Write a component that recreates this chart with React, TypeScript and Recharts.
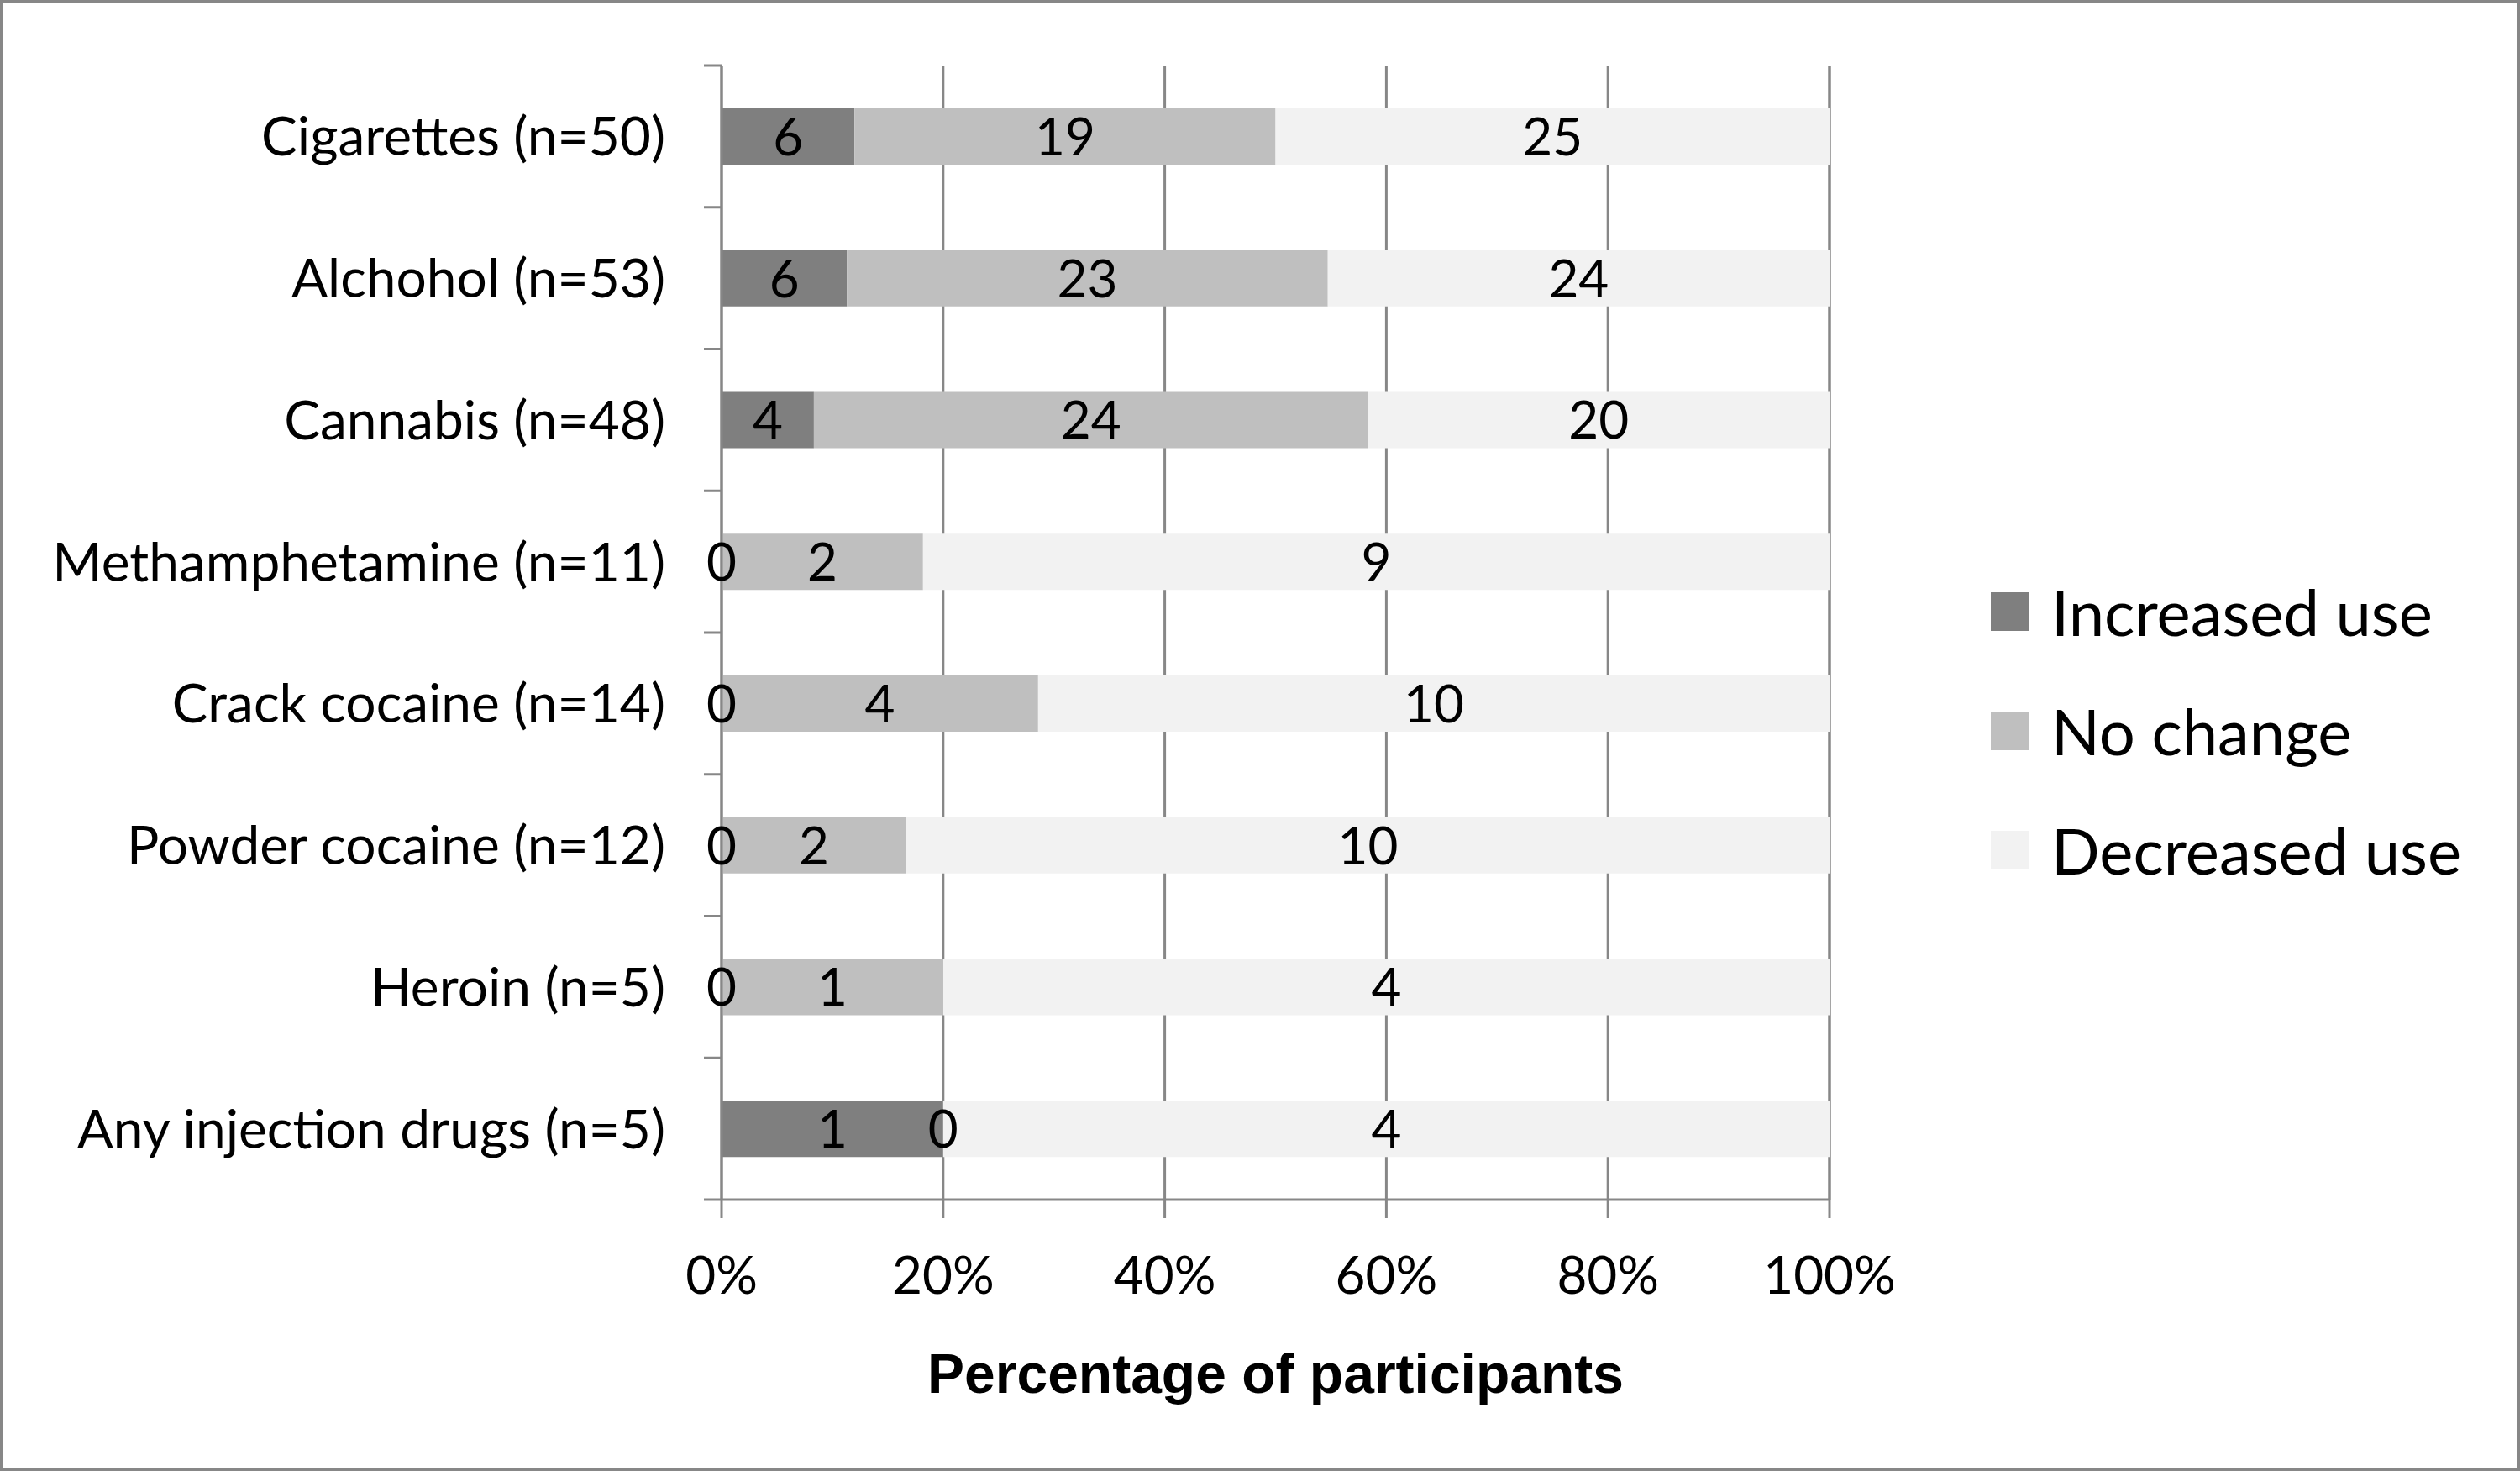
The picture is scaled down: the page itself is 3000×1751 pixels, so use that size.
import React from 'react';
import {
  BarChart,
  Bar,
  XAxis,
  YAxis,
  CartesianGrid,
  Legend,
  LabelList,
} from 'recharts';

// Substances with sample size
const substances = [
  'Cigarettes (n=50)',
  'Alchohol (n=53)',
  'Cannabis (n=48)',
  'Methamphetamine (n=11)',
  'Crack cocaine (n=14)',
  'Powder cocaine (n=12)',
  'Heroin (n=5)',
  'Any injection drugs (n=5)',
];
const sampleSizes = [50, 53, 48, 11, 14, 12, 5, 5];

// Counts per response
const increasedUse = [6, 6, 4, 0, 0, 0, 0, 1];
const noChange = [19, 23, 24, 2, 4, 2, 1, 0];
const decreasedUse = [25, 24, 20, 9, 10, 10, 4, 4];

const percentTicks = [0, 20, 40, 60, 80, 100];

const seriesNames = ['Increased use', 'No change', 'Decreased use'];

const colors = {
  increased: '#7f7f7f',
  noChange: '#bfbfbf',
  decreased: '#f2f2f2',
  axis: '#878787',
  text: '#000000',
};

const labelFont = 'Lato, "Open Sans", sans-serif';

const data = substances.map((name, i) => ({
  name,
  increased: (increasedUse[i] / sampleSizes[i]) * 100,
  noChange: (noChange[i] / sampleSizes[i]) * 100,
  decreased: (decreasedUse[i] / sampleSizes[i]) * 100,
  increasedN: increasedUse[i],
  noChangeN: noChange[i],
  decreasedN: decreasedUse[i],
}));

const TICK_MARGIN = 67;
const TICK_LEN = 21;

// category label + boundary tick marks (Excel puts ticks between categories)
const CategoryTick = (props: any) => {
  const { x, y, payload, index } = props;
  const half = payload?.offset ?? 0;
  const axisX = x + TICK_MARGIN;
  const isLast = index === substances.length - 1;
  return (
    <g>
      <line x1={axisX - TICK_LEN} x2={axisX} y1={y - half} y2={y - half} stroke={colors.axis} strokeWidth={3} />
      {isLast && (
        <line x1={axisX - TICK_LEN} x2={axisX} y1={y + half} y2={y + half} stroke={colors.axis} strokeWidth={3} />
      )}
      <text
        x={x}
        y={y}
        dy="0.36em"
        textAnchor="end"
        fontFamily={labelFont}
        fontSize={64}
        fill={colors.text}
      >
        {payload.value}
      </text>
    </g>
  );
};

const countText = (key: string, cx: number, cy: number, value: number) => (
  <text
    key={key}
    x={cx}
    y={cy}
    dy="0.36em"
    textAnchor="middle"
    fontFamily={labelFont}
    fontSize={62}
    fill={colors.text}
  >
    {value}
  </text>
);

// Recharts drops zero-width segments, so a "0" of the previous series is
// drawn at the left edge of the next segment
const makeCountLabel = (prevKey?: string) => (props: any) => {
  const { x, y, width, height, value, index } = props;
  const cy = Number(y) + Number(height) / 2;
  const row = data[index];
  return (
    <g>
      {prevKey && row && (row as any)[prevKey] === 0 && countText('z', Number(x), cy, 0)}
      {countText('v', Number(x) + Number(width) / 2, cy, value)}
    </g>
  );
};

const LegendContent = () => {
  const swatches = [colors.increased, colors.noChange, colors.decreased];
  return (
    <div style={{ width: 762, paddingLeft: 192, boxSizing: 'border-box', transform: 'translateY(-6px)' }}>
      {seriesNames.map((label, i) => (
        <div key={label} style={{ height: 142, display: 'flex', alignItems: 'center' }}>
          <div style={{ width: 46, height: 46, background: swatches[i], marginRight: 26 }} />
          <span style={{ fontFamily: labelFont, fontSize: 76, color: colors.text, lineHeight: 1 }}>{label}</span>
        </div>
      ))}
    </div>
  );
};

export default function App() {
  return (
    <div style={{ position: 'absolute', left: 0, top: 0, width: 3000, height: 1751, background: '#fff' }}>
      <BarChart
        width={3000}
        height={1751}
        data={data}
        layout="vertical"
        margin={{ top: 78, right: 60, left: 0, bottom: 0 }}
      >
        <CartesianGrid horizontal={false} vertical stroke={colors.axis} strokeWidth={3} />
        <XAxis
          type="number"
          domain={[0, 100]}
          ticks={percentTicks}
          tickFormatter={(v) => `${v}%`}
          height={323}
          tickSize={22}
          tickMargin={46}
          tickLine={{ stroke: colors.axis, strokeWidth: 3 }}
          axisLine={{ stroke: colors.axis, strokeWidth: 3 }}
          tick={{ fontFamily: labelFont, fontSize: 62, fill: colors.text }}
          label={{
            value: 'Percentage of participants',
            position: 'insideBottom',
            offset: 93,
            style: {
              fontFamily: '"Liberation Sans", Arial, sans-serif',
              fontWeight: 'bold',
              fontSize: 66,
              fill: colors.text,
            },
          }}
        />
        <YAxis
          type="category"
          dataKey="name"
          width={859}
          tickSize={0}
          tickMargin={TICK_MARGIN}
          tickLine={false}
          axisLine={{ stroke: colors.axis, strokeWidth: 3 }}
          tick={<CategoryTick />}
          interval={0}
        />
        <Legend
          layout="vertical"
          align="right"
          verticalAlign="middle"
          content={<LegendContent />}
        />
        <Bar dataKey="increased" name={seriesNames[0]} stackId="a" fill={colors.increased} barSize={67} isAnimationActive={false}>
          <LabelList dataKey="increasedN" content={makeCountLabel()} />
        </Bar>
        <Bar dataKey="noChange" name={seriesNames[1]} stackId="a" fill={colors.noChange} barSize={67} isAnimationActive={false}>
          <LabelList dataKey="noChangeN" content={makeCountLabel('increasedN')} />
        </Bar>
        <Bar dataKey="decreased" name={seriesNames[2]} stackId="a" fill={colors.decreased} barSize={67} isAnimationActive={false}>
          <LabelList dataKey="decreasedN" content={makeCountLabel('noChangeN')} />
        </Bar>
      </BarChart>
      <div
        style={{
          position: 'absolute',
          left: 0,
          top: 0,
          width: 3000,
          height: 1751,
          boxSizing: 'border-box',
          border: `4px solid ${colors.axis}`,
          pointerEvents: 'none',
        }}
      />
    </div>
  );
}
